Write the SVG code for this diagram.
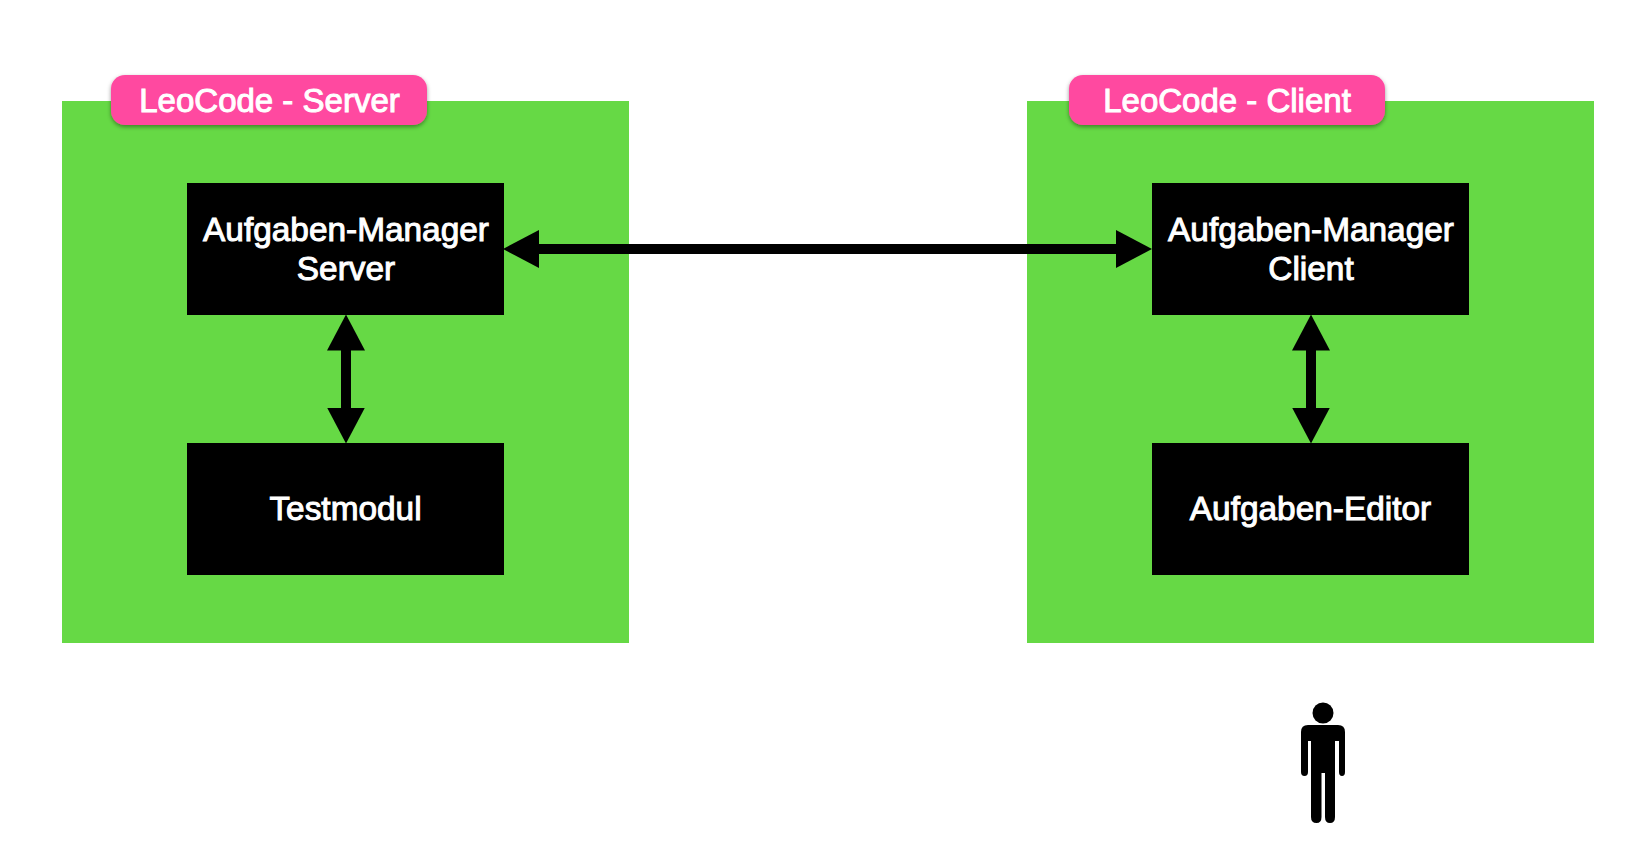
<svg xmlns="http://www.w3.org/2000/svg" width="1641" height="856" viewBox="0 0 1641 856">
<defs>
<style>
.zone{fill:#66d945}
.box{fill:#000}
.pill{fill:#ff4aa0;filter:url(#sh)}
text{font-family:"Liberation Sans",Arial,sans-serif;fill:#fff;text-anchor:middle;font-size:33.400px;font-weight:400;stroke:#fff;stroke-width:1px}
.title{font-size:33px}
.conn{stroke:#000;stroke-width:10;fill:none;marker-start:url(#ah);marker-end:url(#ah)}
</style>
<filter id="sh" x="-10%" y="-20%" width="120%" height="150%"><feDropShadow dx="0" dy="2" stdDeviation="2" flood-color="#000" flood-opacity=".4"/></filter>
<marker id="ah" viewBox="0 0 36 38" refX="1" refY="19" markerWidth="36" markerHeight="38" markerUnits="userSpaceOnUse" orient="auto-start-reverse"><path d="M0 0L36 19L0 38Z" fill="#000"/></marker>
</defs>
<g id="zone-server">
<rect class="zone" x="62" y="101" width="567" height="542"/>
<rect class="pill" x="111" y="75" width="316" height="50" rx="14"/>
<text class="title" x="269.500" y="112">LeoCode - Server</text>
</g>
<g id="zone-client">
<rect class="zone" x="1027" y="101" width="567" height="542"/>
<rect class="pill" x="1069" y="75" width="316" height="50" rx="14"/>
<text class="title" x="1227" y="112">LeoCode - Client</text>
</g>
<g id="manager-server">
<rect class="box" x="187" y="183" width="317" height="132"/>
<text x="346" y="241">Aufgaben-Manager</text>
<text x="346" y="280">Server</text>
</g>
<g id="testmodul">
<rect class="box" x="187" y="443" width="317" height="132"/>
<text x="345.500" y="520">Testmodul</text>
</g>
<g id="manager-client">
<rect class="box" x="1152" y="183" width="317" height="132"/>
<text x="1311" y="241">Aufgaben-Manager</text>
<text x="1311" y="280">Client</text>
</g>
<g id="editor">
<rect class="box" x="1152" y="443" width="317" height="132"/>
<text x="1310.500" y="520">Aufgaben-Editor</text>
</g>
<g id="connectors">
<path class="conn" d="M538 249H1117"/>
<path class="conn" d="M346 349.500V408.500"/>
<path class="conn" d="M1311 349.500V408.500"/>
</g>
<g id="person">
<circle cx="1323" cy="713" r="10.500"/>
<path d="M1308 725H1338Q1345 725 1345 732V772Q1345 776 1342 776Q1339 776 1339 772V741H1335V817Q1335 823 1330 823Q1325 823 1325 817V773H1321.500V817Q1321.500 823 1316.500 823Q1311 823 1311 817V741H1308V772Q1308 776 1304.500 776Q1301 776 1301 772V732Q1301 725 1308 725Z"/>
</g>
</svg>
